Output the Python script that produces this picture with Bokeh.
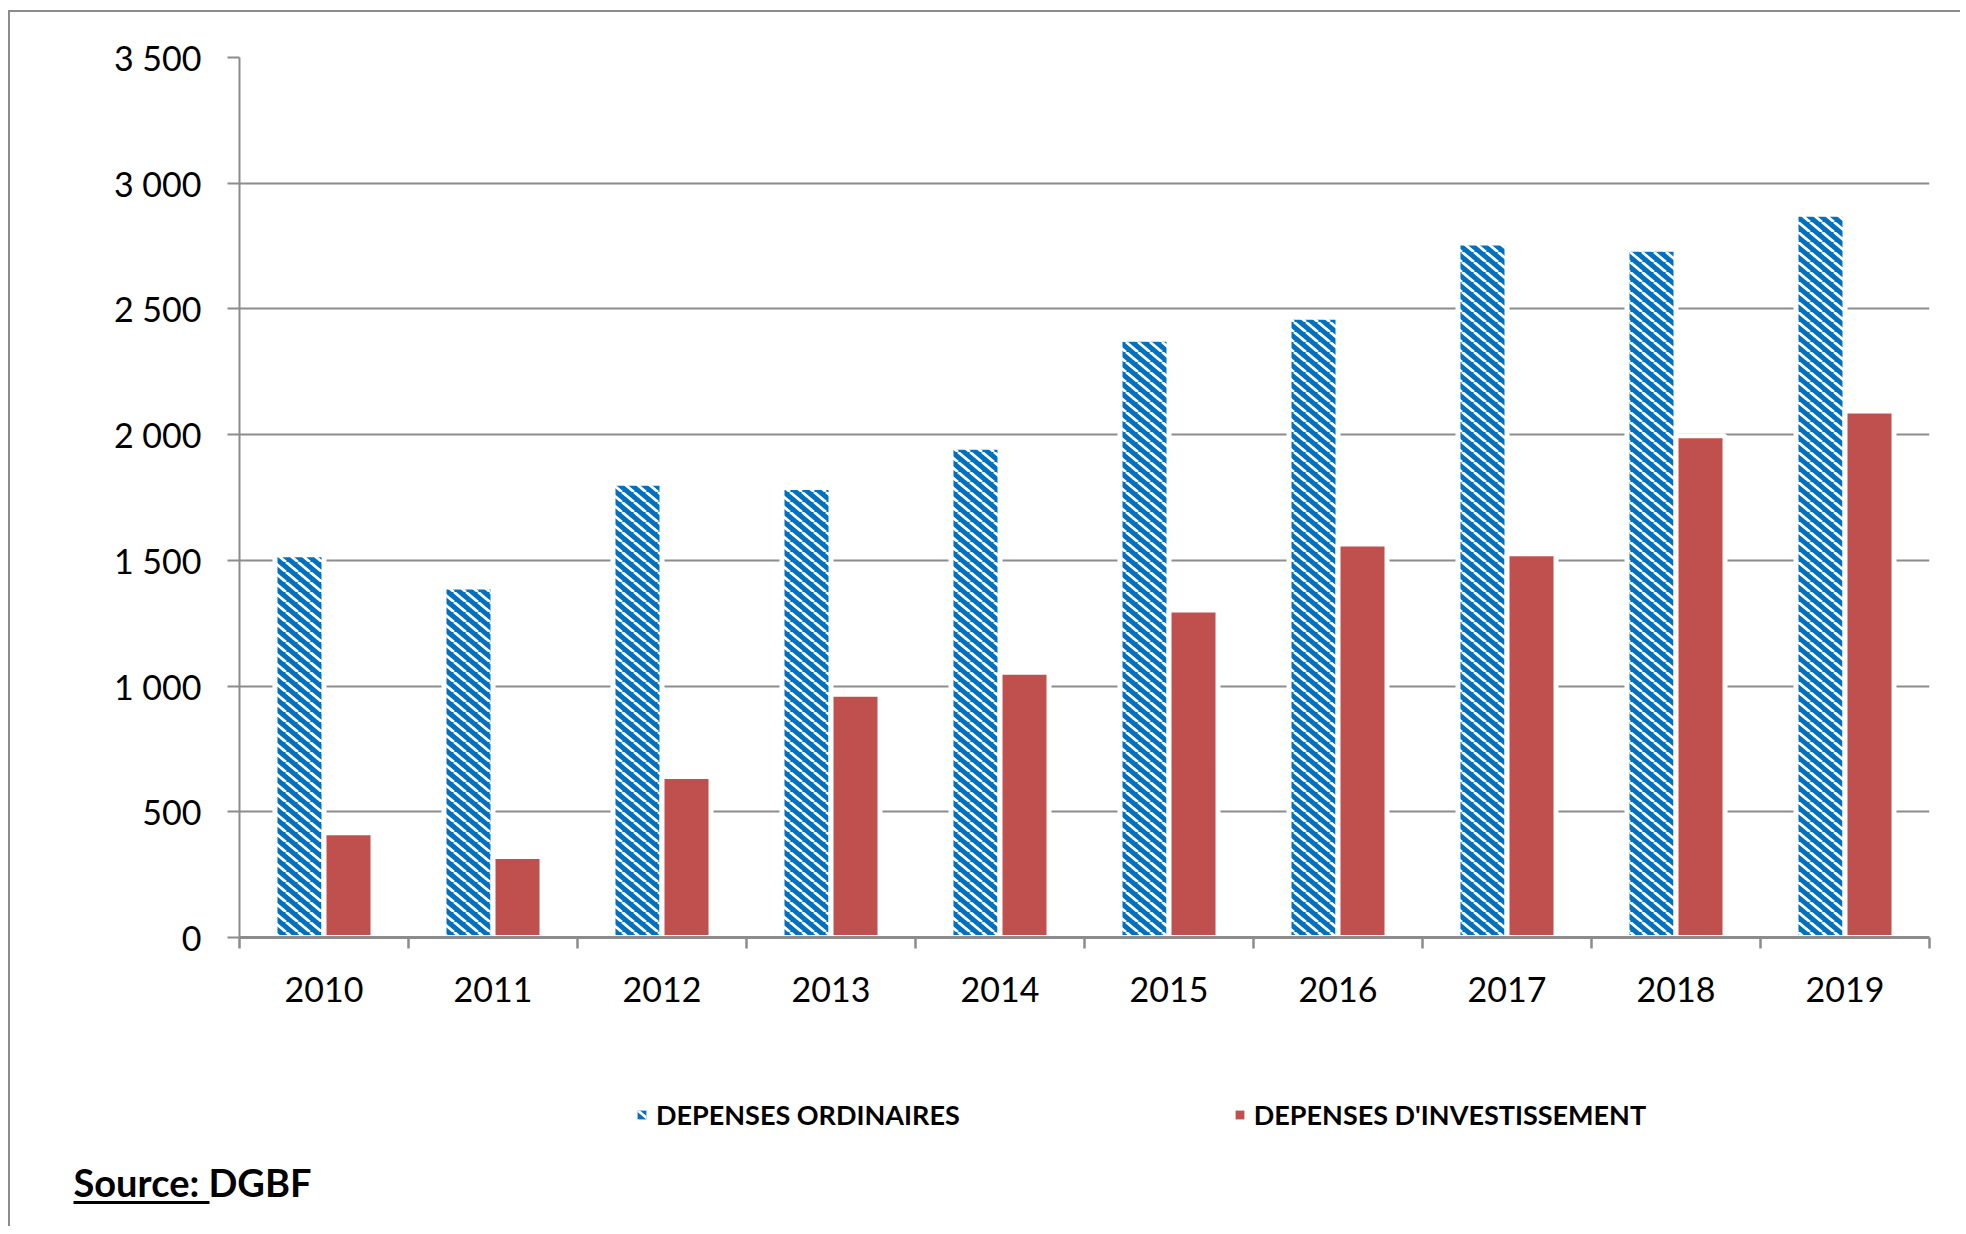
from bokeh.plotting import figure
from bokeh.layouts import column
from bokeh.models import (FixedTicker, Legend, LegendItem, Label, BoxAnnotation, Range1d,
                          ColumnDataSource, CanvasTexture)
from bokeh.core.properties import value
from bokeh.embed import file_html
from bokeh.resources import INLINE

# ---- data ----
years = ["2010", "2011", "2012", "2013", "2014", "2015", "2016", "2017", "2018", "2019"]
depenses_ordinaires = [1522, 1394, 1807, 1790, 1950, 2379, 2467, 2762, 2737, 2877]
depenses_investissement = [417, 322, 640, 967, 1055, 1303, 1565, 1526, 1996, 2094]
y_ticks = [0, 500, 1000, 1500, 2000, 2500, 3000, 3500]
y_tick_labels = ["0", "500", "1 000", "1 500", "2 000", "2 500", "3 000", "3 500"]
series_names = ["DEPENSES ORDINAIRES", "DEPENSES D'INVESTISSEMENT"]
source_text = "Source: DGBF"

BLUE = "#0070C0"
RED = "#C0504D"
GRAY = "#8c8c8c"
FONT = "Lato"

# "\" white stripes texture (tile 12 x 10 px, ~40 degrees)
stripes = CanvasTexture(code="""
const TW = 12, TH = 10;
ctx.canvas.width = TW;
ctx.canvas.height = TH;
ctx.clearRect(0, 0, TW, TH);
ctx.strokeStyle = "#ffffff";
ctx.lineWidth = 2.8;
ctx.beginPath();
for (let x0 = -2 * TW; x0 <= 2 * TW; x0 += TW) {
  ctx.moveTo(x0, 0);
  ctx.lineTo(x0 + TW, TH);
}
ctx.stroke();
""", repetition="repeat")
hatch_kw = dict(hatch_pattern=value("stripes"), hatch_extra={"stripes": stripes},
                hatch_color="white", hatch_scale=12, hatch_weight=2.8)

centers = [i + 0.5 for i in range(len(years))]
bar_w = 0.29
src = ColumnDataSource(dict(
    x_ord=[c - bar_w / 2 for c in centers],
    x_inv=[c + bar_w / 2 for c in centers],
    ord=depenses_ordinaires,
    inv=depenses_investissement,
))

p = figure(width=1950, height=1028,
           x_range=Range1d(0, len(years)), y_range=Range1d(0, 3500),
           output_backend="svg", toolbar_location=None,
           min_border_left=229, min_border_right=31,
           min_border_top=45, min_border_bottom=103)
p.outline_line_color = None
p.background_fill_color = "white"
p.border_fill_color = "white"

# grid
p.xgrid.visible = False
p.ygrid.ticker = FixedTicker(ticks=y_ticks)
p.ygrid.grid_line_color = GRAY
p.ygrid.grid_line_width = 2

# y axis
ya = p.yaxis[0]
ya.ticker = FixedTicker(ticks=y_ticks)
ya.major_label_overrides = {t: l for t, l in zip(y_ticks, y_tick_labels)}
ya.axis_line_color = GRAY
ya.axis_line_width = 2
ya.major_tick_line_color = GRAY
ya.major_tick_line_width = 2
ya.major_tick_out = 12
ya.major_tick_in = 0
ya.minor_tick_line_color = None
ya.major_label_text_font = FONT
ya.major_label_text_font_size = "34px"
ya.major_label_text_color = "black"
ya.major_label_standoff = 26

# x axis
xa = p.xaxis[0]
xa.ticker = FixedTicker(ticks=centers, minor_ticks=list(range(len(years) + 1)))
xa.major_label_overrides = {c: y for c, y in zip(centers, years)}
xa.axis_line_color = GRAY
xa.axis_line_width = 3
xa.major_tick_line_color = None
xa.major_tick_out = 0
xa.major_tick_in = 0
xa.minor_tick_line_color = GRAY
xa.minor_tick_line_width = 2.5
xa.minor_tick_out = 11
xa.minor_tick_in = 0
xa.major_label_text_font = FONT
xa.major_label_text_font_size = "34px"
xa.major_label_text_color = "black"
xa.major_label_standoff = 28

# bars
p.vbar(x="x_ord", top="ord", width=bar_w, source=src,
       fill_color=BLUE, line_color="white", line_width=5, **hatch_kw)
p.vbar(x="x_inv", top="inv", width=bar_w, source=src,
       fill_color=RED, line_color="white", line_width=5)

# ---- lower panel: legend + source ----
p2 = figure(width=1950, height=186, x_range=Range1d(0, 1), y_range=Range1d(0, 1),
            x_axis_type=None, y_axis_type=None,
            output_backend="svg", toolbar_location=None,
            min_border=0, min_border_left=0, min_border_right=0,
            min_border_top=0, min_border_bottom=0)
if "frame_align" in p2.properties():
    p2.frame_align = False
p2.outline_line_color = None
p2.xgrid.visible = False
p2.ygrid.visible = False
p2.background_fill_color = "white"
p2.border_fill_color = "white"

# legend proxies (kept outside the visible range of this panel)
lg1 = p2.vbar(x=[5], top=[1], width=0.1, fill_color=BLUE, line_color=None, **hatch_kw)
lg2 = p2.vbar(x=[5], top=[1], width=0.1, fill_color=RED, line_color=None)

legend = Legend(items=[LegendItem(label=series_names[0], renderers=[lg1]),
                       LegendItem(label=series_names[1], renderers=[lg2])],
                orientation="horizontal", location=(626, 95),
                glyph_width=11, glyph_height=11, label_standoff=9,
                spacing=274, padding=0, margin=0,
                border_line_color=None, background_fill_alpha=0,
                label_text_font=FONT, label_text_font_style="bold",
                label_text_font_size="27px", label_text_color="black")
p2.add_layout(legend, "center")

p2.add_layout(Label(x=63, y=45, x_units="screen", y_units="screen",
                    text=source_text, text_font=FONT, text_font_style="bold",
                    text_font_size="38px", text_baseline="middle", text_color="black"))
p2.add_layout(BoxAnnotation(left=63, right=199, top=25.5, bottom=22.5,
                            left_units="screen", right_units="screen",
                            top_units="screen", bottom_units="screen",
                            fill_color="black", fill_alpha=1, line_color=None))

layout = column(p, p2, spacing=0)
layout.styles = {"margin-left": "8px", "margin-top": "10px",
                 "border-left": "2px solid #8c8c8c", "border-top": "2px solid #8c8c8c"}

open("out.html", "w").write(file_html(layout, INLINE))
